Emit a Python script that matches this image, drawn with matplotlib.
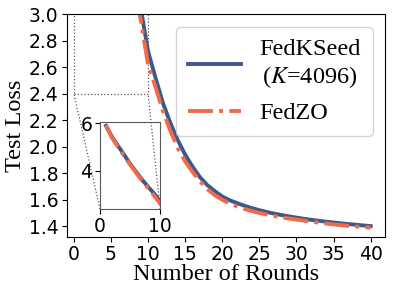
import matplotlib
matplotlib.use("Agg")
import matplotlib.pyplot as plt
from mpl_toolkits.axes_grid1.inset_locator import mark_inset

plt.rcParams['mathtext.fontset'] = 'stix'

# test loss per round
rounds = list(range(1, 41))
fedkseed = [5.89, 5.42, 5.05, 4.68, 4.30, 3.96, 3.63, 3.33, 3.05, 2.72,
            2.52, 2.33, 2.18, 2.05, 1.94, 1.85, 1.77, 1.71, 1.665, 1.625,
            1.597, 1.575, 1.555, 1.537, 1.522, 1.508, 1.496, 1.485, 1.475, 1.466,
            1.457, 1.449, 1.442, 1.435, 1.429, 1.423, 1.417, 1.412, 1.407, 1.402]
fedzo = [5.92, 5.38, 5.00, 4.63, 4.26, 3.92, 3.58, 3.27, 2.96, 2.62,
         2.45, 2.27, 2.12, 1.99, 1.89, 1.81, 1.74, 1.68, 1.635, 1.60,
         1.572, 1.550, 1.531, 1.515, 1.501, 1.489, 1.478, 1.468, 1.459, 1.451,
         1.443, 1.435, 1.428, 1.421, 1.415, 1.409, 1.404, 1.399, 1.394, 1.390]
labels = ['FedKSeed\n($K$=4096)', 'FedZO']

BLUE = '#3b5a8a'
RED = '#f36a4b'
SERIF = 'Liberation Serif'

fig = plt.figure(figsize=(3.93, 2.94), dpi=100)
ax = fig.add_axes([0.170, 0.194, 0.810, 0.758])

ax.plot(rounds, fedkseed, color=BLUE, lw=2.8, label=labels[0])
ax.plot(rounds, fedzo, color=RED, lw=2.8, ls='-.', label=labels[1])
ax.set_ylim(1.32, 3.0)
ax.set_xticks(range(0, 41, 5))
ax.set_yticks([1.4, 1.6, 1.8, 2.0, 2.2, 2.4, 2.6, 2.8, 3.0])
ax.tick_params(labelsize=13.5, pad=2.5)
ax.set_xlabel('Number of Rounds', fontsize=17.5, family=SERIF, labelpad=0)
ax.set_ylabel('Test Loss', fontsize=17.5, family=SERIF, labelpad=2)

leg = ax.legend(loc='upper right', prop={'family': SERIF, 'size': 17.5},
                handlelength=2.2, handletextpad=0.75, borderpad=0.5,
                labelspacing=0.5, borderaxespad=0,
                bbox_to_anchor=(0.962, 0.942))
for t in leg.get_texts():
    t.set_multialignment('center')

# zoomed view of the first rounds
axins = fig.add_axes([0.2545, 0.289, 0.153, 0.296])
axins.plot(rounds, fedkseed, color=BLUE, lw=2.8)
axins.plot(rounds, fedzo, color=RED, lw=2.8, ls='-.')
axins.set_xlim(0, 10)
axins.set_ylim(2.40, 6.05)
axins.set_xticks([0, 10])
axins.set_yticks([4, 6])
axins.tick_params(labelsize=13.5, pad=2)
for s in axins.spines.values():
    s.set_edgecolor('0.35')
mark_inset(ax, axins, loc1=3, loc2=4, fc='none', ec='0.35', ls=':', lw=0.9)

fig.savefig('out.png', dpi=100)
